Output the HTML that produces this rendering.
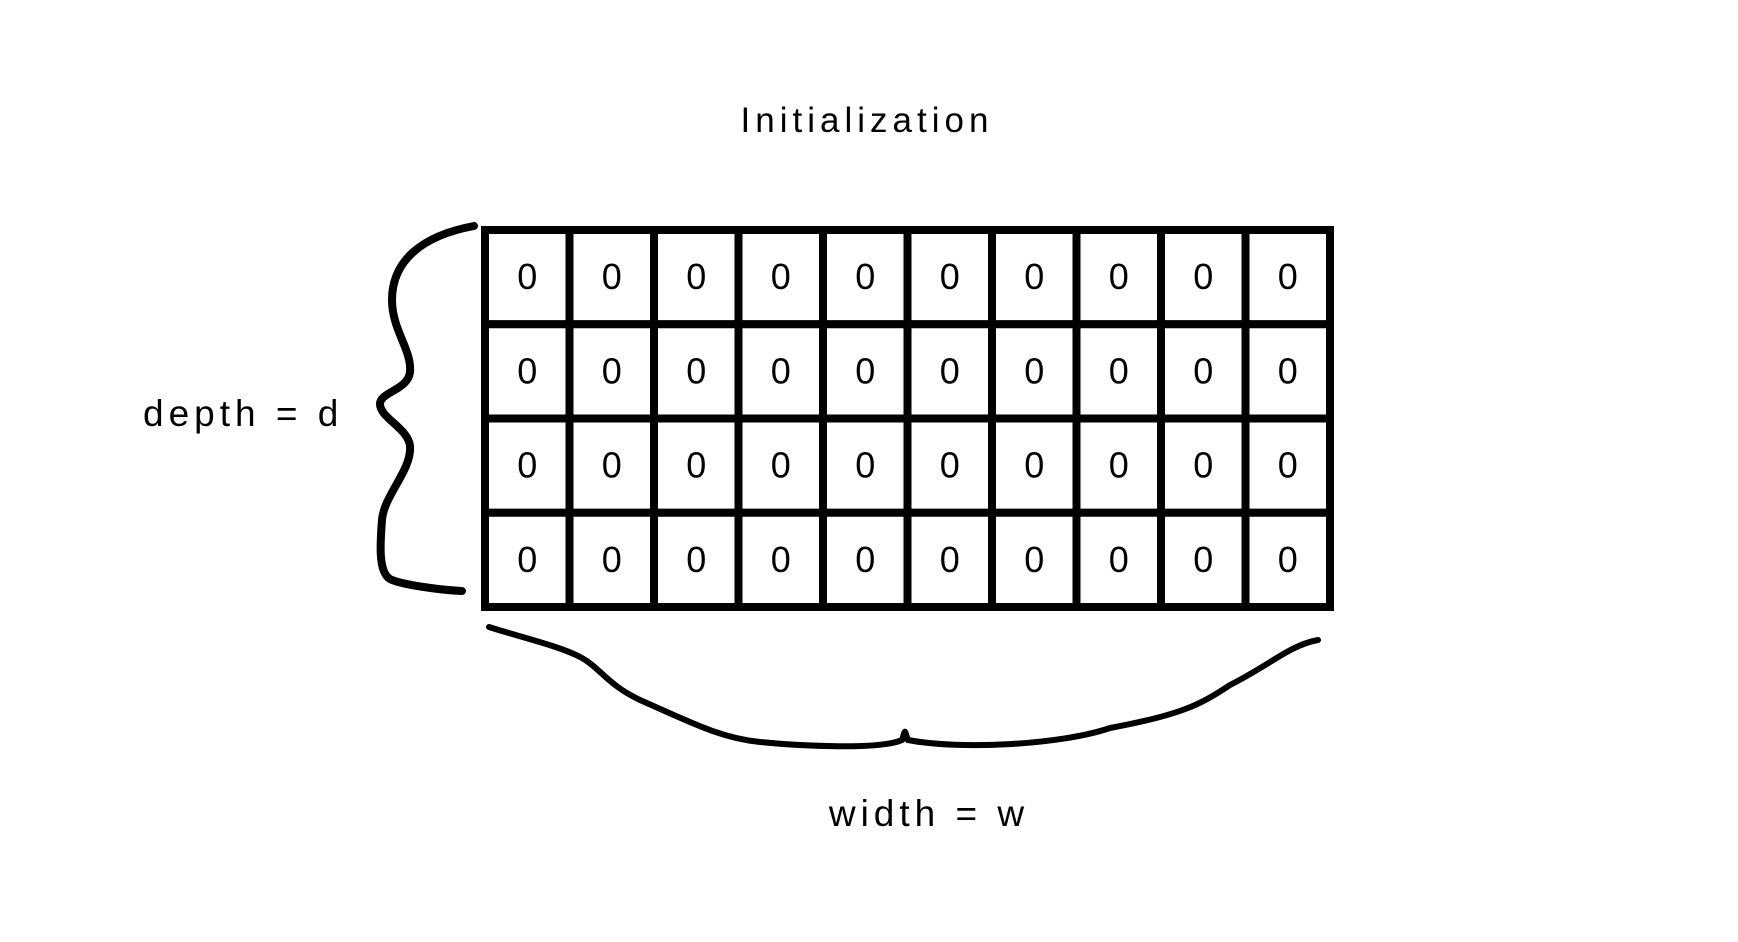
<!DOCTYPE html>
<html><head><meta charset="utf-8"><style>
html,body{margin:0;padding:0;background:#fff;}
svg{display:block;}
text{font-family:"Liberation Sans",sans-serif;fill:#000;}
</style></head><body>
<svg id="s" width="1738" height="942" viewBox="0 0 1738 942">
<text x="867" y="132" font-size="35" letter-spacing="5" text-anchor="middle">Initialization</text>
<text x="143" y="426" font-size="37" letter-spacing="5">depth = d</text>
<text x="929" y="826" font-size="37" letter-spacing="5" text-anchor="middle">width = w</text>
<path d="M474 226 C420 236 392 262 392 300 C392 330 412 350 410 372 C408 390 380 392 380 404 C380 418 408 428 410 446 C412 470 384 495 382 520 C380 545 378 575 392 580 C405 585 440 590 462 591" fill="none" stroke="#000" stroke-width="8" stroke-linecap="round"/>
<path d="M489 627 C520 637 560 646 582 658 C600 668 608 685 640 700 C690 722 720 738 760 742 C800 746 880 750 902 740 C906 728 904 730 908 740 C960 750 1060 745 1110 728 C1180 715 1200 705 1230 685 C1270 665 1290 645 1318 640" fill="none" stroke="#000" stroke-width="6" stroke-linecap="round"/>
<g id="grid"></g>
</svg>
<script>
const rowLabels=["r1","r2","r3","r4"];
const colLabels=["c1","c2","c3","c4","c5","c6","c7","c8","c9","c10"];
const cellValues=[[0,0,0,0,0,0,0,0,0,0],[0,0,0,0,0,0,0,0,0,0],[0,0,0,0,0,0,0,0,0,0],[0,0,0,0,0,0,0,0,0,0]];
const NS="http://www.w3.org/2000/svg";
const gridG=document.getElementById('grid');
const gLeft=485,gRight=1330,gTop=230,gBottom=607;
const cw=(gRight-gLeft)/colLabels.length, rh=(gBottom-gTop)/rowLabels.length;
function xs(c){return gLeft+c*cw;}
function ys(r){return gTop+r*rh;}
for(let r=0;r<rowLabels.length;r++){
  for(let c=0;c<colLabels.length;c++){
    const rect=document.createElementNS(NS,'rect');
    rect.setAttribute('x',xs(c));rect.setAttribute('y',ys(r));
    rect.setAttribute('width',cw);rect.setAttribute('height',rh);
    rect.setAttribute('fill','#fff');rect.setAttribute('stroke','#000');rect.setAttribute('stroke-width','8');
    
    
    gridG.appendChild(rect);
    const t=document.createElementNS(NS,'text');
    t.setAttribute('x',xs(c)+cw/2);t.setAttribute('y',ys(r)+rh/2+12);
    t.setAttribute('font-size','36');t.setAttribute('text-anchor','middle');
    t.textContent=cellValues[r][c];
    
    
    gridG.appendChild(t);
  }
}
</script>
</body></html>
